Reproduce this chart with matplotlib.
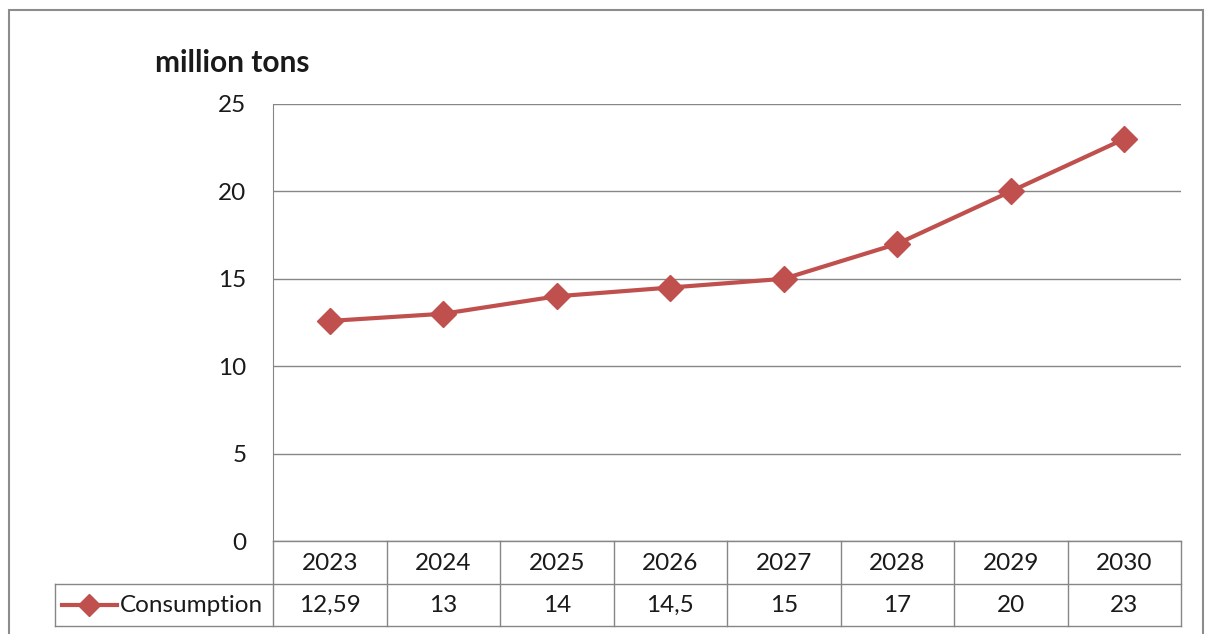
import matplotlib.pyplot as plt
from matplotlib.lines import Line2D
from matplotlib.patches import Rectangle

plt.rcParams['font.family'] = ['Lato', 'DejaVu Sans']

years = ['2023', '2024', '2025', '2026', '2027', '2028', '2029', '2030']
consumption = [12.59, 13, 14, 14.5, 15, 17, 20, 23]
value_labels = ['12,59', '13', '14', '14,5', '15', '17', '20', '23']
series_name = 'Consumption'
unit_label = 'million tons'

W, H = 1205, 634
red = '#C0504D'
grey = '#868686'
txt = '#1a1a1a'
fs = 17.5

fig = plt.figure(figsize=(W / 100, H / 100), dpi=100)

def fx(px):
    return px / W

def fy(py):
    return 1 - py / H

# outer chart border
fig.patches.append(Rectangle((fx(9), fy(640)), fx(1203 - 9), fy(10) - fy(640),
                             transform=fig.transFigure, fill=False,
                             edgecolor='#8c8c8c', linewidth=1.5))

x0, x1, ytop, ybot = 273, 1181, 104, 541
ax = fig.add_axes([fx(x0), fy(ybot), fx(x1 - x0), fy(ytop) - fy(ybot)])
xs = list(range(len(years)))
ax.plot(xs, consumption, color=red, linewidth=3, marker='D', markersize=13,
        markerfacecolor=red, markeredgecolor=red, clip_on=False, zorder=3)
ax.set_xlim(-0.5, len(years) - 0.5)
ax.set_ylim(0, 25)
ax.set_yticks([0, 5, 10, 15, 20, 25])
ax.set_xticks([])
ax.grid(axis='y', color=grey, linewidth=1)
for s in ['top', 'right', 'bottom']:
    ax.spines[s].set_visible(False)
ax.spines['left'].set_color(grey)
ax.tick_params(axis='y', length=0, pad=19, labelsize=fs, labelcolor=txt)

fig.text(fx(155), fy(63), unit_label, fontsize=21.5, fontweight='bold',
         color=txt, ha='left', va='center')

# data table below the plot
r0, r1, r2 = 541, 584, 626
cw = (x1 - x0) / len(years)
lines = [
    ((x0, x1), (r0, r0)),
    ((55, x1), (r1, r1)),
    ((55, x1), (r2, r2)),
    ((55, 55), (r1, r2)),
    ((x0, x0), (r0, r2)),
]
for i in range(1, len(years) + 1):
    lines.append(((x0 + i * cw, x0 + i * cw), (r0, r2)))
for (a, b), (c, d) in lines:
    fig.add_artist(Line2D([fx(a), fx(b)], [fy(c), fy(d)], color=grey,
                          linewidth=1, transform=fig.transFigure))

for i, (yr, v) in enumerate(zip(years, value_labels)):
    cx = x0 + (i + 0.5) * cw
    fig.text(fx(cx), fy((r0 + r1) / 2 + 1), yr, fontsize=fs, color=txt,
             ha='center', va='center')
    fig.text(fx(cx), fy((r1 + r2) / 2), v, fontsize=fs, color=txt,
             ha='center', va='center')

# legend key inside table
ky = fy((r1 + r2) / 2)
fig.add_artist(Line2D([fx(62), fx(117)], [ky, ky], color=red, linewidth=3,
                      transform=fig.transFigure))
fig.add_artist(Line2D([fx(89)], [ky], color=red, marker='D', markersize=11,
                      linestyle='none', transform=fig.transFigure))
fig.text(fx(120), ky, series_name, fontsize=fs, color=txt, ha='left', va='center')

fig.savefig('out.png', dpi=100)
